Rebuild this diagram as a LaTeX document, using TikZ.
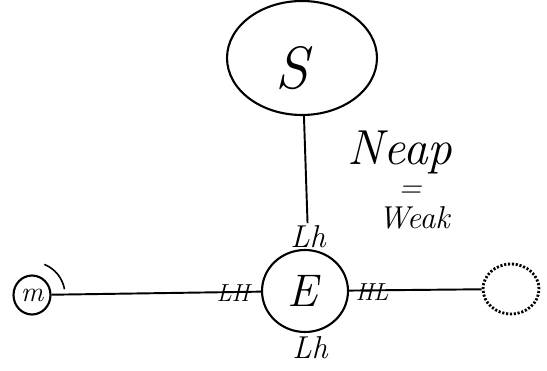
\documentclass[tikz,border=0pt]{standalone}
\usetikzlibrary{shapes.geometric}

\tikzset{
  body/.style={draw,ellipse,inner sep=0pt,line width=1.2pt},
  hand/.style={inner sep=1pt,font=\itshape}
}

\begin{document}
\begin{tikzpicture}[x=0.02cm,y=-0.02cm,line width=1.1pt]
\useasboundingbox (0,0) rectangle (547,371);
% ---------- bodies ----------
\node[body,minimum width=3.0cm,minimum height=2.28cm] (S) at (302,58) {};
\node[hand,font=\fontsize{34}{34}\selectfont\itshape] (Slbl) at (292,68) {S};
\node[body,minimum width=1.72cm,minimum height=1.64cm] (E) at (305,291) {};
\node[hand,font=\fontsize{26}{26}\selectfont\itshape] (Elbl) at (303,291) {E};
\node[body,minimum width=0.74cm,minimum height=0.78cm] (moon) at (32,295) {};
\node[hand,font=\fontsize{16}{16}\selectfont\itshape] (mlbl) at (32,295) {m};
\node[body,densely dotted,line width=1.6pt,minimum width=1.12cm,minimum height=1.0cm] (sun) at (511,289) {};
% 月亮外侧的弧
\draw[line width=0.9pt] (moon.center) ++(-68:33) arc[start angle=-68,end angle=-10,radius=33];
% ---------- tide labels ----------
\node[hand,font=\fontsize{18}{18}\selectfont\itshape] (lhtop) at (308,237) {Lh};
\node[hand,font=\fontsize{18}{18}\selectfont\itshape] (lhbot) at (310,348) {Lh};
\node[hand,font=\fontsize{14}{14}\selectfont\itshape] (LH) at (233,293) {LH};
\node[hand,font=\fontsize{14}{14}\selectfont\itshape] (HL) at (372,292) {HL};
% ---------- connectors ----------
\draw (S) -- (lhtop);
\draw (moon) -- (E);
\draw (E) -- (sun);
% ---------- note ----------
\node[hand,font=\fontsize{28}{28}\selectfont\itshape] (neap) at (400,152) {Neap};
\node[hand,font=\fontsize{18}{18}\selectfont\itshape] (eq) at (410,192) {=};
\node[hand,font=\fontsize{18}{18}\selectfont\itshape] (weak) at (414,218) {Weak};
\end{tikzpicture}
\end{document}
